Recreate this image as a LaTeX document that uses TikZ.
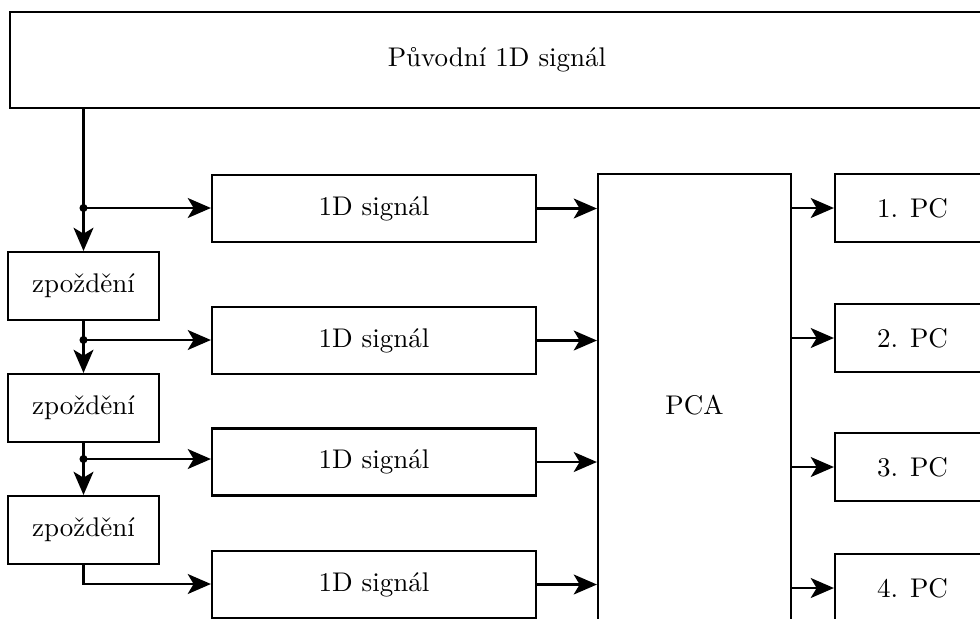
\documentclass[tikz,border=0pt]{standalone}
\usepackage{fontspec}
\usetikzlibrary{arrows.meta}
\def\u{0.37037pt}
\tikzset{
  blok/.style={draw, thick, inner sep=0pt, align=center},
  sipka/.style={thick, -{Stealth[length=8.6pt, width=7.4pt, inset=2.2pt]}},
  uzel/.style={circle, fill, inner sep=0pt, minimum size=3pt},
}
\begin{document}
\begin{tikzpicture}[x=\u, y=-\u]
\useasboundingbox (0,0) rectangle (980,618);
\clip (0,0) rectangle (980,618);

% vstupni signal
\node[blok, minimum width=974*\u, minimum height=96*\u] (vstup) at (497,60) {Původní 1D signál};

% zpozdovaci clanky
\node[blok, minimum width=151*\u, minimum height=68*\u] (z1) at (83.5,286) {zpoždění};
\node[blok, minimum width=151*\u, minimum height=68*\u] (z2) at (83.5,408) {zpoždění};
\node[blok, minimum width=151*\u, minimum height=68*\u] (z3) at (83.5,530) {zpoždění};

% zpozdene kopie signalu
\node[blok, minimum width=324*\u, minimum height=67*\u] (s1) at (374,208.5) {1D signál};
\node[blok, minimum width=324*\u, minimum height=67*\u] (s2) at (374,340.5) {1D signál};
\node[blok, minimum width=324*\u, minimum height=67*\u] (s3) at (374,462) {1D signál};
\node[blok, minimum width=324*\u, minimum height=67*\u] (s4) at (374,584.5) {1D signál};

% PCA
\node[blok, minimum width=193*\u, minimum height=462*\u] (pca) at (694.5,405) {PCA};

% hlavni komponenty
\node[blok, minimum width=155*\u, minimum height=68*\u] (p1) at (912.5,208) {1. PC};
\node[blok, minimum width=155*\u, minimum height=68*\u] (p2) at (912.5,338) {2. PC};
\node[blok, minimum width=155*\u, minimum height=68*\u] (p3) at (912.5,467) {3. PC};
\node[blok, minimum width=155*\u, minimum height=68*\u] (p4) at (912.5,588) {4. PC};

% odbocky
\coordinate (d1) at (z1.north |- 0,208);
\coordinate (d2) at (z1.north |- 0,340);
\coordinate (d3) at (z1.north |- 0,459);
\coordinate (d4) at (z1.north |- 0,584);

\draw[sipka] (vstup.south -| z1.north) -- (z1.north);
\draw[sipka] (z1.south) -- (z2.north);
\draw[sipka] (z2.south) -- (z3.north);
\draw[sipka] (z3.south) -- (d4) -- (d4 -| s4.west);

\draw[sipka] (d1) -- (d1 -| s1.west);
\draw[sipka] (d2) -- (d2 -| s2.west);
\draw[sipka] (d3) -- (d3 -| s3.west);

\node[uzel] (u1) at (d1) {};
\node[uzel] (u2) at (d2) {};
\node[uzel] (u3) at (d3) {};

% vstupy do PCA
\draw[sipka] (s1.east) -- (s1.east -| pca.west);
\draw[sipka] (s2.east) -- (s2.east -| pca.west);
\draw[sipka] (s3.east) -- (s3.east -| pca.west);
\draw[sipka] (s4.east) -- (s4.east -| pca.west);

% vystupy PCA
\draw[sipka] (p1.west -| pca.east) -- (p1.west);
\draw[sipka] (p2.west -| pca.east) -- (p2.west);
\draw[sipka] (p3.west -| pca.east) -- (p3.west);
\draw[sipka] (p4.west -| pca.east) -- (p4.west);
\end{tikzpicture}
\end{document}
